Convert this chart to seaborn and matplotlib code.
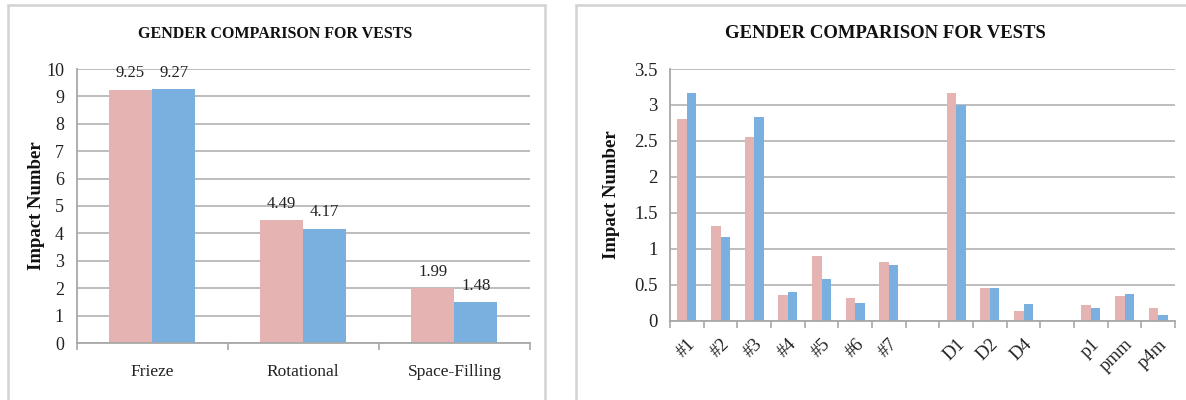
import matplotlib
matplotlib.use("Agg")
import matplotlib.pyplot as plt
from matplotlib.patches import Rectangle
from matplotlib.ticker import FixedLocator
import numpy as np
import pandas as pd
import seaborn as sns

# Left panel: impact by pattern family
family_cats = ["Frieze", "Rotational", "Space-Filling"]
family_female = [9.25, 4.49, 1.99]
family_male = [9.27, 4.17, 1.48]

# Right panel: impact by individual pattern (blank slots separate the groups)
pattern_cats = ["#1", "#2", "#3", "#4", "#5", "#6", "#7", "gap1",
                "D1", "D2", "D4", "gap2", "p1", "pmm", "p4m"]
pattern_labels = ["#1", "#2", "#3", "#4", "#5", "#6", "#7", "",
                  "D1", "D2", "D4", "", "p1", "pmm", "p4m"]
pattern_female = [2.80, 1.32, 2.55, 0.36, 0.90, 0.31, 0.82, np.nan,
                  3.17, 0.46, 0.14, np.nan, 0.22, 0.34, 0.17]
pattern_male = [3.17, 1.16, 2.83, 0.40, 0.575, 0.25, 0.77, np.nan,
                3.00, 0.45, 0.23, np.nan, 0.17, 0.375, 0.08]

y_ticks_left = [0, 1, 2, 3, 4, 5, 6, 7, 8, 9, 10]
y_ticks_right = [0, 0.5, 1, 1.5, 2, 2.5, 3, 3.5]
y_ticklabels_right = ["0", "0.5", "1", "1.5", "2", "2.5", "3", "3.5"]

PINK = "#E6B3B3"
BLUE = "#7AB0DF"
GRID = "#BDBDBD"
AXIS = "#A8A8A8"
SERIF = ["Liberation Serif", "DejaVu Serif"]

sns.set_theme(style="white")
plt.rcParams["font.family"] = SERIF


def long_frame(cats, female, male):
    return pd.DataFrame({
        "category": cats * 2,
        "value": list(female) + list(male),
        "gender": ["Female"] * len(cats) + ["Male"] * len(cats),
    })


def style_axis(ax, yticks, yticklabels, ytick_size, ylabel_pad):
    ax.set_yticks(yticks)
    ax.set_yticklabels(yticklabels, fontsize=ytick_size, color="#222222")
    ax.set_ylim(yticks[0], yticks[-1])
    ax.yaxis.grid(True, color=GRID, linewidth=1.4)
    ax.xaxis.grid(False)
    ax.set_axisbelow(True)
    for side in ["top", "right"]:
        ax.spines[side].set_visible(False)
    for side in ["left", "bottom"]:
        ax.spines[side].set_color(AXIS)
        ax.spines[side].set_linewidth(1.3)
    ax.tick_params(axis="y", which="major", length=5, width=1.2,
                   color=AXIS, direction="out", pad=4)
    n = len(ax.get_xticks())
    ax.set_xlim(-0.5, n - 0.5)
    # category boundary ticks on the x axis
    ax.xaxis.set_minor_locator(FixedLocator(np.arange(n + 1) - 0.5))
    ax.tick_params(axis="x", which="minor", length=5, width=1.2,
                   color=AXIS, direction="out", bottom=True)
    ax.tick_params(axis="x", which="major", length=0)
    ax.set_xlabel("")
    ax.set_ylabel("Impact Number", fontsize=13.5, fontweight="bold",
                  color="#111111", labelpad=ylabel_pad)


fig = plt.figure(figsize=(11.86, 4.0), dpi=100)
W, H = 1186, 400

# panel frames
fig.add_artist(Rectangle((8 / W, -0.05), (545 - 8) / W, (400 - 5) / H + 0.05,
                         transform=fig.transFigure, fill=False,
                         edgecolor="#D2D2D2", linewidth=1.8))
fig.add_artist(Rectangle((576 / W, -0.05), 0.6, (400 - 5) / H + 0.05,
                         transform=fig.transFigure, fill=False,
                         edgecolor="#D2D2D2", linewidth=1.8))

# ---- left chart
ax1 = fig.add_axes([76.5 / W, (400 - 343) / H, (530 - 76.5) / W, (343 - 69) / H])
df1 = long_frame(family_cats, family_female, family_male)
sns.barplot(data=df1, x="category", y="value", hue="gender", order=family_cats,
            palette=[PINK, BLUE], saturation=1, width=0.57, gap=0,
            legend=False, ax=ax1, errorbar=None, linewidth=0)
for cont in ax1.containers:
    ax1.bar_label(cont, fmt="%.2f", padding=6, fontsize=12, color="#222222")
style_axis(ax1, y_ticks_left, [str(t) for t in y_ticks_left], 13, 1)
ax1.set_xticks(range(len(family_cats)))
ax1.set_xticklabels(family_cats, fontsize=12.5, color="#222222")
ax1.tick_params(axis="x", which="major", pad=15)
fig.text(275 / W, 1 - 34 / H, "GENDER COMPARISON FOR VESTS", ha="center",
         va="center", fontsize=11.5, fontweight="bold", color="#111111")

# ---- right chart
ax2 = fig.add_axes([670 / W, (400 - 320.7) / H, (1175 - 670) / W, (320.7 - 69) / H])
df2 = long_frame(pattern_cats, pattern_female, pattern_male)
sns.barplot(data=df2, x="category", y="value", hue="gender", order=pattern_cats,
            palette=[PINK, BLUE], saturation=1, width=0.57, gap=0,
            legend=False, ax=ax2, errorbar=None, linewidth=0)
style_axis(ax2, y_ticks_right, y_ticklabels_right, 13.5, 10)
ax2.set_xticks(range(len(pattern_cats)))
ax2.set_xticklabels(pattern_labels, fontsize=13.5, color="#222222",
                    rotation=45, ha="right", rotation_mode="anchor")
ax2.tick_params(axis="x", which="major", pad=11)
fig.text(885 / W, 1 - 34 / H, "GENDER COMPARISON FOR VESTS", ha="center",
         va="center", fontsize=13.5, fontweight="bold", color="#111111")

fig.savefig("out.png", dpi=100, facecolor="white")
